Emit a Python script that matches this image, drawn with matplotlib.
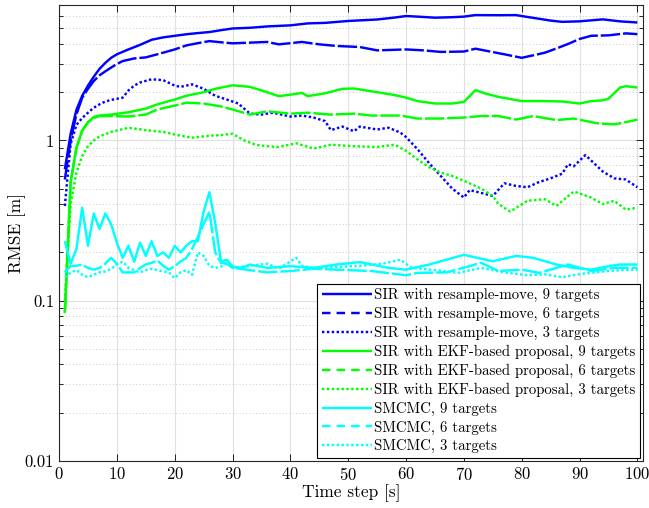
import numpy as np
import matplotlib
matplotlib.use("Agg")
import matplotlib.pyplot as plt
from matplotlib.lines import Line2D

plt.rcParams['font.family'] = ['cmr10', 'DejaVu Serif']
plt.rcParams['mathtext.fontset'] = 'cm'
plt.rcParams['axes.unicode_minus'] = False
plt.rcParams['axes.formatter.use_mathtext'] = True

# values (time step, RMSE)
t_b9 = [1, 2, 3, 4, 5, 6, 7, 8, 9, 10, 12, 14, 16, 18, 20, 22, 24, 26, 28, 30, 33, 36, 40, 43, 46, 50,
        55, 58, 60, 62, 65, 68, 70, 72, 76, 79, 81, 83, 85, 87, 90, 94, 97, 100]
v_b9 = [0.66, 1.1, 1.55, 1.9, 2.2, 2.5, 2.8, 3.05, 3.28, 3.45, 3.7, 3.95, 4.25, 4.4, 4.5, 4.6, 4.68, 4.75,
        4.88, 5.0, 5.05, 5.15, 5.23, 5.38, 5.42, 5.57, 5.69, 5.85, 5.98, 5.93, 5.84, 5.88, 5.93, 6.06, 6.05,
        6.06, 5.9, 5.75, 5.6, 5.5, 5.54, 5.7, 5.54, 5.45]

t_b6 = [1, 2, 3, 4, 5, 6, 7, 8, 9, 10, 11, 13, 15, 17, 20, 22, 24, 26, 28, 30, 33, 36, 38, 42, 45, 48,
        52, 55, 58, 60, 63, 66, 70, 72, 74, 77, 80, 82, 84, 86, 88, 90, 92, 95, 98, 100]
v_b6 = [0.57, 1.0, 1.45, 1.85, 2.1, 2.35, 2.55, 2.7, 2.85, 3.0, 3.13, 3.25, 3.3, 3.45, 3.7, 3.92, 4.05,
        4.17, 4.1, 4.04, 4.08, 4.12, 3.98, 4.12, 3.98, 3.89, 3.83, 3.65, 3.68, 3.7, 3.65, 3.57, 3.59, 3.74,
        3.62, 3.45, 3.28, 3.4, 3.53, 3.75, 4.0, 4.3, 4.5, 4.53, 4.66, 4.61]

t_b3 = [1, 2, 3, 4, 5, 6, 7, 8, 9, 10, 11, 12, 13, 14, 16, 18, 20, 21, 23, 25, 27, 29, 31, 33, 35, 37,
        40, 42, 44, 46, 47, 49, 51, 52, 55, 57, 59, 60, 62, 64, 66, 68, 70, 71, 73, 75, 77, 79, 81, 83,
        85, 87, 88, 89, 91, 92, 94, 96, 98, 100]
v_b3 = [0.39, 0.95, 1.25, 1.38, 1.49, 1.6, 1.68, 1.75, 1.79, 1.82, 1.85, 2.05, 2.2, 2.3, 2.41, 2.38, 2.2,
        2.16, 2.24, 2.1, 1.9, 1.8, 1.7, 1.47, 1.45, 1.49, 1.41, 1.43, 1.39, 1.32, 1.16, 1.22, 1.14, 1.22,
        1.17, 1.2, 1.12, 1.05, 0.88, 0.72, 0.6, 0.5, 0.44, 0.49, 0.47, 0.45, 0.54, 0.52, 0.51, 0.55, 0.58,
        0.62, 0.71, 0.69, 0.81, 0.75, 0.64, 0.58, 0.57, 0.51]

t_g9 = [1, 2, 3, 4, 5, 6, 7, 9, 12, 15, 17, 20, 22, 25, 27, 30, 33, 36, 38, 40, 42, 43, 46, 49, 51, 55,
        58, 60, 62, 65, 68, 70, 72, 74, 76, 80, 84, 87, 90, 92, 94, 95, 97, 98, 100]
v_g9 = [0.084, 0.55, 0.9, 1.15, 1.3, 1.4, 1.43, 1.45, 1.5, 1.58, 1.68, 1.8, 1.9, 2.0, 2.1, 2.21, 2.16,
        2.0, 1.89, 1.93, 1.98, 1.89, 1.97, 2.1, 2.11, 2.0, 1.92, 1.85, 1.76, 1.7, 1.7, 1.74, 2.06, 1.95,
        1.87, 1.76, 1.76, 1.75, 1.7, 1.76, 1.78, 1.82, 2.14, 2.18, 2.14]

t_g6 = [1, 2, 3, 4, 5, 6, 7, 9, 12, 15, 17, 20, 22, 25, 28, 30, 33, 36, 40, 43, 47, 51, 54, 59, 61, 62,
        66, 70, 73, 76, 79, 82, 86, 89, 93, 96, 98, 100]
v_g6 = [0.084, 0.55, 0.9, 1.15, 1.3, 1.38, 1.42, 1.42, 1.41, 1.45, 1.56, 1.65, 1.72, 1.70, 1.63, 1.56,
        1.45, 1.52, 1.47, 1.49, 1.45, 1.47, 1.43, 1.43, 1.39, 1.37, 1.37, 1.39, 1.42, 1.42, 1.35, 1.42,
        1.34, 1.37, 1.28, 1.26, 1.30, 1.35]

t_g3 = [1, 2, 3, 4, 5, 6, 7, 9, 12, 15, 18, 21, 23, 26, 28, 30, 32, 34, 36, 38, 41, 44, 47, 51, 55, 58,
        60, 62, 64, 66, 68, 70, 73, 75, 76, 78, 81, 84, 86, 89, 92, 94, 96, 98, 100]
v_g3 = [0.1, 0.4, 0.63, 0.8, 0.92, 1.0, 1.06, 1.13, 1.2, 1.16, 1.13, 1.07, 1.04, 1.07, 1.08, 1.1, 1.0,
        0.94, 0.92, 0.91, 0.96, 0.89, 0.94, 0.92, 0.91, 0.94, 0.86, 0.76, 0.68, 0.63, 0.6, 0.56, 0.5, 0.45,
        0.4, 0.36, 0.42, 0.43, 0.39, 0.48, 0.44, 0.40, 0.42, 0.37, 0.38]

t_c9 = list(range(1, 34)) + [36, 40, 44, 48, 52, 57, 60, 64, 70, 75, 79, 82, 86, 89, 92, 95, 97, 100]
v_c9 = [0.235, 0.17, 0.21, 0.38, 0.22, 0.35, 0.28, 0.35, 0.30, 0.23, 0.185, 0.22, 0.175, 0.23, 0.19,
        0.235, 0.19, 0.2, 0.185, 0.22, 0.2, 0.22, 0.235, 0.235, 0.36, 0.475, 0.305, 0.175, 0.18, 0.164,
        0.16, 0.162, 0.168,
        0.16, 0.164, 0.16, 0.168, 0.174, 0.16, 0.156, 0.168, 0.193, 0.176, 0.19, 0.185, 0.168, 0.16,
        0.156, 0.164, 0.168, 0.168]

t_c6 = list(range(1, 31)) + [33, 36, 40, 44, 48, 54, 60, 62, 67, 73, 76, 80, 83, 88, 92, 96, 100]
v_c6 = [0.15, 0.164, 0.165, 0.168, 0.16, 0.156, 0.16, 0.17, 0.185, 0.17, 0.15, 0.15, 0.15, 0.16, 0.168,
        0.172, 0.178, 0.165, 0.156, 0.164, 0.175, 0.185, 0.21, 0.25, 0.3, 0.36, 0.2, 0.172, 0.17, 0.16,
        0.155, 0.15, 0.153, 0.158, 0.156, 0.153, 0.144, 0.149, 0.15, 0.172, 0.153, 0.156, 0.149, 0.168,
        0.153, 0.16, 0.16]

t_c3 = list(range(1, 31)) + [33, 36, 38, 41, 42, 44, 48, 52, 56, 59, 61, 65, 69, 73, 77, 81, 84, 87,
                             91, 95, 99, 100]
v_c3 = [0.14, 0.15, 0.155, 0.145, 0.14, 0.145, 0.15, 0.152, 0.158, 0.168, 0.175, 0.16, 0.155, 0.15,
        0.155, 0.158, 0.155, 0.152, 0.15, 0.138, 0.15, 0.155, 0.145, 0.2, 0.19, 0.165, 0.16, 0.163,
        0.172, 0.16,
        0.165, 0.17, 0.158, 0.185, 0.165, 0.16, 0.162, 0.165, 0.17, 0.18, 0.16, 0.155, 0.149, 0.16,
        0.15, 0.144, 0.146, 0.14, 0.148, 0.153, 0.156, 0.155]

labels = ['SIR with resample-move, 9 targets', 'SIR with resample-move, 6 targets',
          'SIR with resample-move, 3 targets', 'SIR with EKF-based proposal, 9 targets',
          'SIR with EKF-based proposal, 6 targets', 'SIR with EKF-based proposal, 3 targets',
          'SMCMC, 9 targets', 'SMCMC, 6 targets', 'SMCMC, 3 targets']

series = [(t_b9, v_b9), (t_b6, v_b6), (t_b3, v_b3),
          (t_g9, v_g9), (t_g6, v_g6), (t_g3, v_g3),
          (t_c9, v_c9), (t_c6, v_c6), (t_c3, v_c3)]
colors = ['#0000ff'] * 3 + ['#00ff00'] * 3 + ['#00ffff'] * 3
# dashed lines in the plot look almost solid, legend shows clear dashes
line_styles = [(0, ()), (0, (8, 1.2)), (0, (1, 1))] * 3
leg_styles = [(0, ()), (0, (3.5, 2.5)), (0, (1, 1))] * 3

fig = plt.figure(figsize=(6.49, 5.08), dpi=100)
ax = fig.add_axes([0.091, 0.093, 0.9, 0.897])

handles = []
for (t, v), c, ls, lls, lab in zip(series, colors, line_styles, leg_styles, labels):
    ax.plot(t, v, color=c, linestyle=ls, linewidth=1.75)
    handles.append(Line2D([], [], color=c, linestyle=lls, linewidth=1.75, label=lab))

ax.set_yscale('log')
ax.set_xlim(0, 101)
ax.set_ylim(0.01, 7)
ax.set_xticks(np.arange(0, 101, 10))
ax.set_yticks([0.01, 0.1, 1])
ax.set_yticklabels(['0.01', '0.1', '1'])
ax.tick_params(which='both', direction='in', top=True, right=True, labelsize=12)
ax.tick_params(which='major', length=5, width=0.6)
ax.tick_params(which='minor', length=3, width=0.6)
ax.grid(True, which='major', color='#e0e0e0', linewidth=0.8)
ax.grid(True, which='minor', axis='y', color='#bbbbbb', linestyle=(0, (1, 3)), linewidth=0.6)
ax.set_axisbelow(True)
for s in ax.spines.values():
    s.set_linewidth(0.8)
    s.set_color('#262626')

ax.set_xlabel('Time step [s]', fontsize=12.5, labelpad=1)
ax.set_ylabel('RMSE [m]', fontsize=12.5, labelpad=-1)

leg = ax.legend(handles=handles, loc='lower right', fontsize=10.7, handlelength=3.4,
                handletextpad=0.15, labelspacing=0.32, borderaxespad=0.2, borderpad=0.3,
                fancybox=False, framealpha=1, edgecolor='black')
leg.get_frame().set_linewidth(0.8)

fig.savefig('out.png', dpi=100)
